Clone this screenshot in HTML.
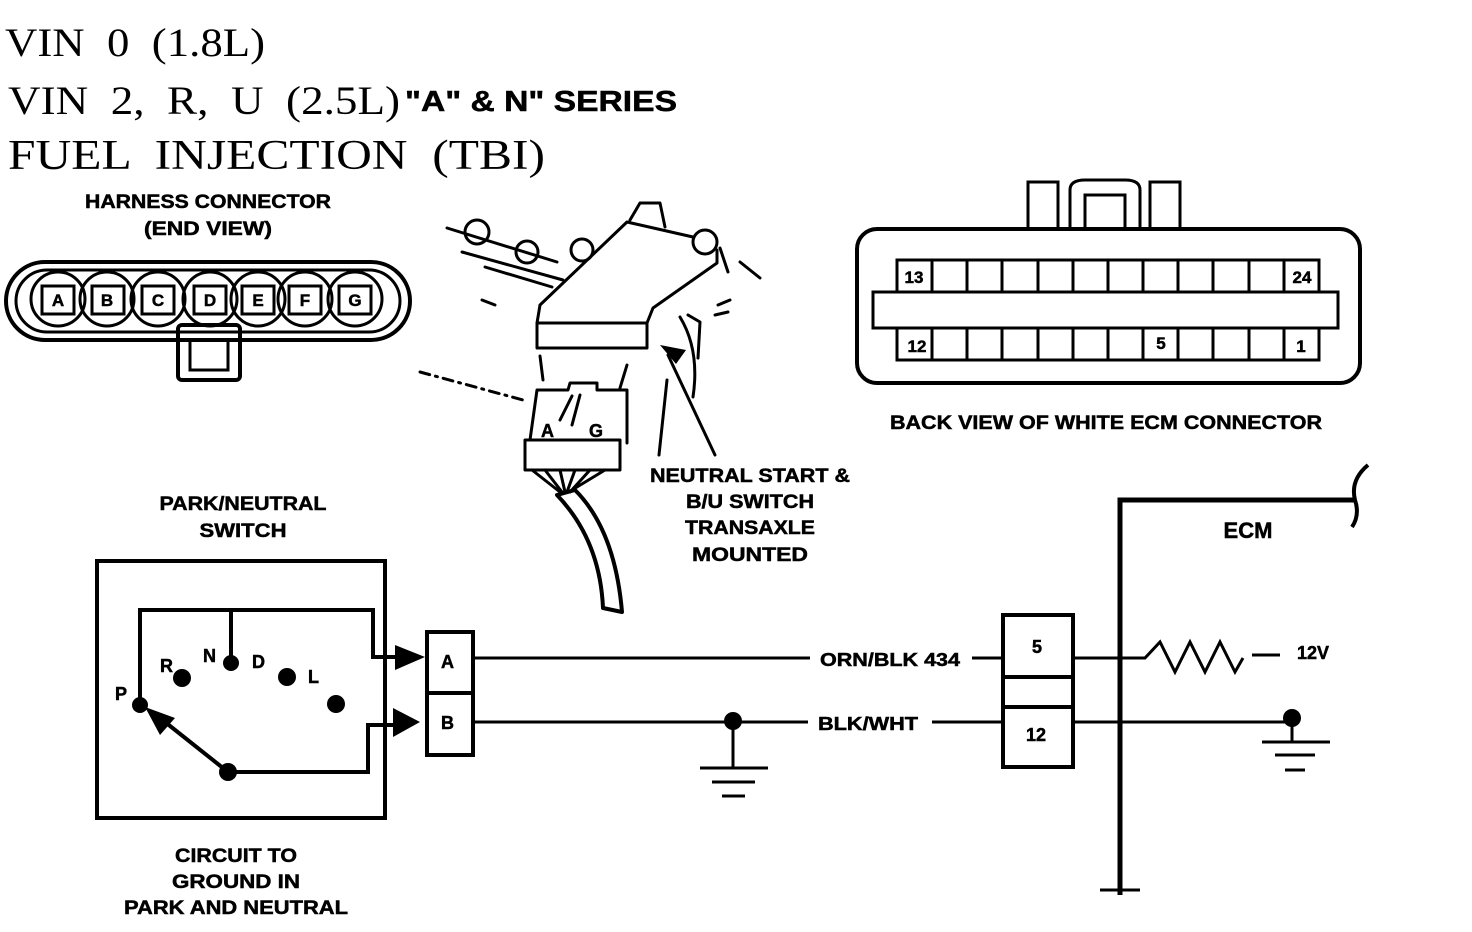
<!DOCTYPE html>
<html><head><meta charset="utf-8"><style>
html,body{margin:0;padding:0;background:#fff;}
svg{display:block;}
.s{font-family:"Liberation Serif",serif;white-space:pre;}
.b{font-family:"Liberation Sans",sans-serif;font-weight:bold;stroke:#000;stroke-width:0.5;}
</style></head><body>
<svg width="1472" height="932" viewBox="0 0 1472 932" xmlns="http://www.w3.org/2000/svg">
<rect width="1472" height="932" fill="#fff"/>
<g fill="#000">
<text class="s" x="5" y="56" font-size="40" textLength="260" lengthAdjust="spacingAndGlyphs">VIN  0  (1.8L)</text>
<text class="s" x="8" y="114" font-size="40" textLength="392" lengthAdjust="spacingAndGlyphs">VIN  2,  R,  U  (2.5L)</text>
<text class="b" x="405" y="111" font-size="29" textLength="272" lengthAdjust="spacingAndGlyphs">"A" &amp; N" SERIES</text>
<text class="s" x="8" y="169" font-size="42" textLength="537" lengthAdjust="spacingAndGlyphs">FUEL  INJECTION  (TBI)</text>
<text class="b" x="208" y="208" font-size="19" text-anchor="middle" textLength="246" lengthAdjust="spacingAndGlyphs">HARNESS CONNECTOR</text>
<text class="b" x="208" y="235" font-size="19" text-anchor="middle" textLength="128" lengthAdjust="spacingAndGlyphs">(END  VIEW)</text>
<text class="b" x="1106" y="429" font-size="19" text-anchor="middle" textLength="432" lengthAdjust="spacingAndGlyphs">BACK VIEW OF WHITE ECM CONNECTOR</text>
<text class="b" x="243" y="510" font-size="19" text-anchor="middle" textLength="167" lengthAdjust="spacingAndGlyphs">PARK/NEUTRAL</text>
<text class="b" x="243" y="537" font-size="19" text-anchor="middle" textLength="87" lengthAdjust="spacingAndGlyphs">SWITCH</text>
<text class="b" x="236" y="862" font-size="19" text-anchor="middle" textLength="122" lengthAdjust="spacingAndGlyphs">CIRCUIT TO</text>
<text class="b" x="236" y="888" font-size="19" text-anchor="middle" textLength="128" lengthAdjust="spacingAndGlyphs">GROUND IN</text>
<text class="b" x="236" y="914" font-size="19" text-anchor="middle" textLength="224" lengthAdjust="spacingAndGlyphs">PARK AND NEUTRAL</text>
<text class="b" x="750" y="482" font-size="19" text-anchor="middle" textLength="200" lengthAdjust="spacingAndGlyphs">NEUTRAL START &amp;</text>
<text class="b" x="750" y="508" font-size="19" text-anchor="middle" textLength="128" lengthAdjust="spacingAndGlyphs">B/U SWITCH</text>
<text class="b" x="750" y="534" font-size="19" text-anchor="middle" textLength="130" lengthAdjust="spacingAndGlyphs">TRANSAXLE</text>
<text class="b" x="750" y="561" font-size="19" text-anchor="middle" textLength="116" lengthAdjust="spacingAndGlyphs">MOUNTED</text>
<text class="b" x="1248" y="538" font-size="22" text-anchor="middle">ECM</text>
<text class="b" x="820" y="666" font-size="18" textLength="140" lengthAdjust="spacingAndGlyphs">ORN/BLK 434</text>
<text class="b" x="818" y="730" font-size="18" textLength="100" lengthAdjust="spacingAndGlyphs">BLK/WHT</text>
<text class="b" x="1297" y="659" font-size="18">12V</text>
</g>
<!-- harness connector -->
<g fill="none" stroke="#000" stroke-width="4">
<rect x="6" y="262" width="404" height="78" rx="39"/>
<rect x="16" y="270" width="384" height="62" rx="31" stroke-width="3"/>
<rect x="178" y="325" width="62" height="55" rx="4"/>
<rect x="190" y="340" width="38" height="30" stroke-width="3"/>
</g>
<g stroke="#000" stroke-width="3" fill="none">
<circle cx="58" cy="299" r="27"/><circle cx="107" cy="299" r="27"/><circle cx="158" cy="299" r="27"/><circle cx="210" cy="299" r="27"/><circle cx="258" cy="299" r="27"/><circle cx="305" cy="299" r="27"/><circle cx="355" cy="299" r="27"/>
<rect x="42" y="286" width="32" height="28"/><rect x="92" y="286" width="32" height="28"/><rect x="142" y="286" width="32" height="28"/><rect x="194" y="286" width="32" height="28"/><rect x="242" y="286" width="32" height="28"/><rect x="289" y="286" width="32" height="28"/><rect x="339" y="286" width="32" height="28"/>
</g>
<g class="b" font-size="17" text-anchor="middle" fill="#000">
<text x="58" y="306">A</text><text x="107" y="306">B</text><text x="158" y="306">C</text><text x="210" y="306">D</text><text x="258" y="306">E</text><text x="305" y="306">F</text><text x="355" y="306">G</text>
</g>
<!-- ECM connector -->
<g fill="none" stroke="#000" stroke-width="4">
<rect x="857" y="229" width="503" height="154" rx="20"/>
<rect x="873" y="292" width="465" height="36" stroke-width="3"/>
<path d="M1028 229 V182 H1058 V229 M1150 229 V182 H1180 V229 M1070 229 V190 Q1070 180 1085 180 H1125 Q1140 180 1140 190 V229 M1085 229 V195 H1125 V229" stroke-width="3"/>
</g>
<g fill="none" stroke="#000" stroke-width="3">
<rect x="897" y="260" width="422" height="32"/>
<rect x="897" y="328" width="422" height="32"/>
<path d="M932 260V292M967 260V292M1002 260V292M1038 260V292M1073 260V292M1108 260V292M1143 260V292M1178 260V292M1213 260V292M1249 260V292M1284 260V292"/>
<path d="M932 328V360M967 328V360M1002 328V360M1038 328V360M1073 328V360M1108 328V360M1143 328V360M1178 328V360M1213 328V360M1249 328V360M1284 328V360"/>
</g>
<g class="b" font-size="17" text-anchor="middle" fill="#000">
<text x="914" y="283">13</text><text x="1302" y="283">24</text><text x="917" y="352">12</text><text x="1161" y="349">5</text><text x="1301" y="352">1</text>
</g>
<!-- switch drawing -->
<g fill="none" stroke="#000" stroke-width="3" stroke-linecap="round" stroke-linejoin="round">
<rect x="537" y="323" width="110" height="25"/>
<path d="M540 305 L627 222 L693 237 M630 220 L640 203 L660 203 L665 227 M540 305 L537 323"/>
<circle cx="705" cy="242" r="12"/>
<path d="M717 250 L717 263 L653 308 L647 323 M720 248 L728 272 M740 262 L760 278 M718 305 L730 300 M715 315 L728 312"/>
<circle cx="477" cy="232" r="12"/><circle cx="527" cy="252" r="11"/><circle cx="582" cy="250" r="11"/>
<path d="M447 228 L557 262 M462 252 L563 280 M485 267 L552 287 M482 300 L495 305"/>
<path d="M537 390 L568 390 L570 383 L597 383 L597 390 L627 390 L627 443 M537 390 L530 440"/>
<rect x="525" y="440" width="95" height="30"/>
<path d="M560 420 L572 396 M572 425 L580 395 M540 356 L543 380 M627 365 L620 388"/>
<path d="M532 470 L560 492 M545 470 L562 492 M560 470 L565 492 M575 470 L567 492 M590 470 L570 492 M605 470 L572 490"/>
<path d="M557 495 Q600 540 603 608 L622 612 Q615 530 575 490 Z" stroke-width="4"/>
<path d="M420 372 L523 400" stroke-dasharray="10 6 2 6"/>
<path d="M680 317 Q700 350 693 397 M688 315 L700 322 L698 358"/>
<path d="M715 455 L668 355 M659 455 L667 380"/>
</g>
<polygon points="660,345 676,364 686,350" fill="#000"/>
<text class="b" x="541" y="437" font-size="18" fill="#000">A</text>
<text class="b" x="589" y="437" font-size="18" fill="#000">G</text>
<!-- schematic switch box -->
<g fill="none" stroke="#000" stroke-width="4">
<rect x="97" y="561" width="288" height="257"/>
<path d="M140 705 V610 H373 V657 H400 M231 610 V663 M228 772 H368 V725 H400"/>
<path d="M228 772 L160 718"/>
<rect x="427" y="632" width="46" height="123"/>
<path d="M427 693 H473"/>
<rect x="1003" y="615" width="70" height="152"/>
<path d="M1003 677 H1073 M1003 707 H1073"/>
</g>
<polygon points="145,707 175,718 160,735" fill="#000"/>
<polygon points="395,645 425,657 395,670" fill="#000"/>
<polygon points="393,708 420,722 393,737" fill="#000"/>
<g fill="#000">
<circle cx="140" cy="705" r="8"/><circle cx="182" cy="678" r="9"/><circle cx="231" cy="663" r="8"/><circle cx="287" cy="677" r="9"/><circle cx="336" cy="704" r="9"/><circle cx="228" cy="772" r="9"/>
</g>
<g class="b" font-size="18" fill="#000">
<text x="115" y="700">P</text><text x="160" y="672">R</text><text x="203" y="662">N</text><text x="252" y="668">D</text><text x="308" y="683">L</text>
<text x="441" y="668">A</text><text x="441" y="729">B</text>
<text x="1032" y="653">5</text><text x="1026" y="741">12</text>
</g>
<!-- wires -->
<g fill="none" stroke="#000" stroke-width="3">
<path d="M473 658 H810 M972 658 H1003 M1073 658 H1130 L1145 658 L1160 642 L1175 672 L1190 642 L1205 672 L1220 642 L1235 672 L1243 658 M1252 655 H1280"/>
<path d="M473 722 H808 M932 722 H1003 M1073 722 H1292 V742"/>
<path d="M733 722 V768 M700 768 H768 M712 782 H755 M722 796 H745"/>
<path d="M1262 742 H1330 M1275 755 H1315 M1285 770 H1305"/>
</g>
<circle cx="733" cy="721" r="9" fill="#000"/>
<circle cx="1292" cy="718" r="9" fill="#000"/>
<!-- ECM bracket -->
<g fill="none" stroke="#000" stroke-width="5">
<path d="M1120 895 V500 H1355"/>
<path d="M1368 465 Q1350 480 1355 500 Q1360 515 1352 527" stroke-width="4"/>
<path d="M1100 890 H1140" stroke-width="3"/>
</g>
</svg>
</body></html>
